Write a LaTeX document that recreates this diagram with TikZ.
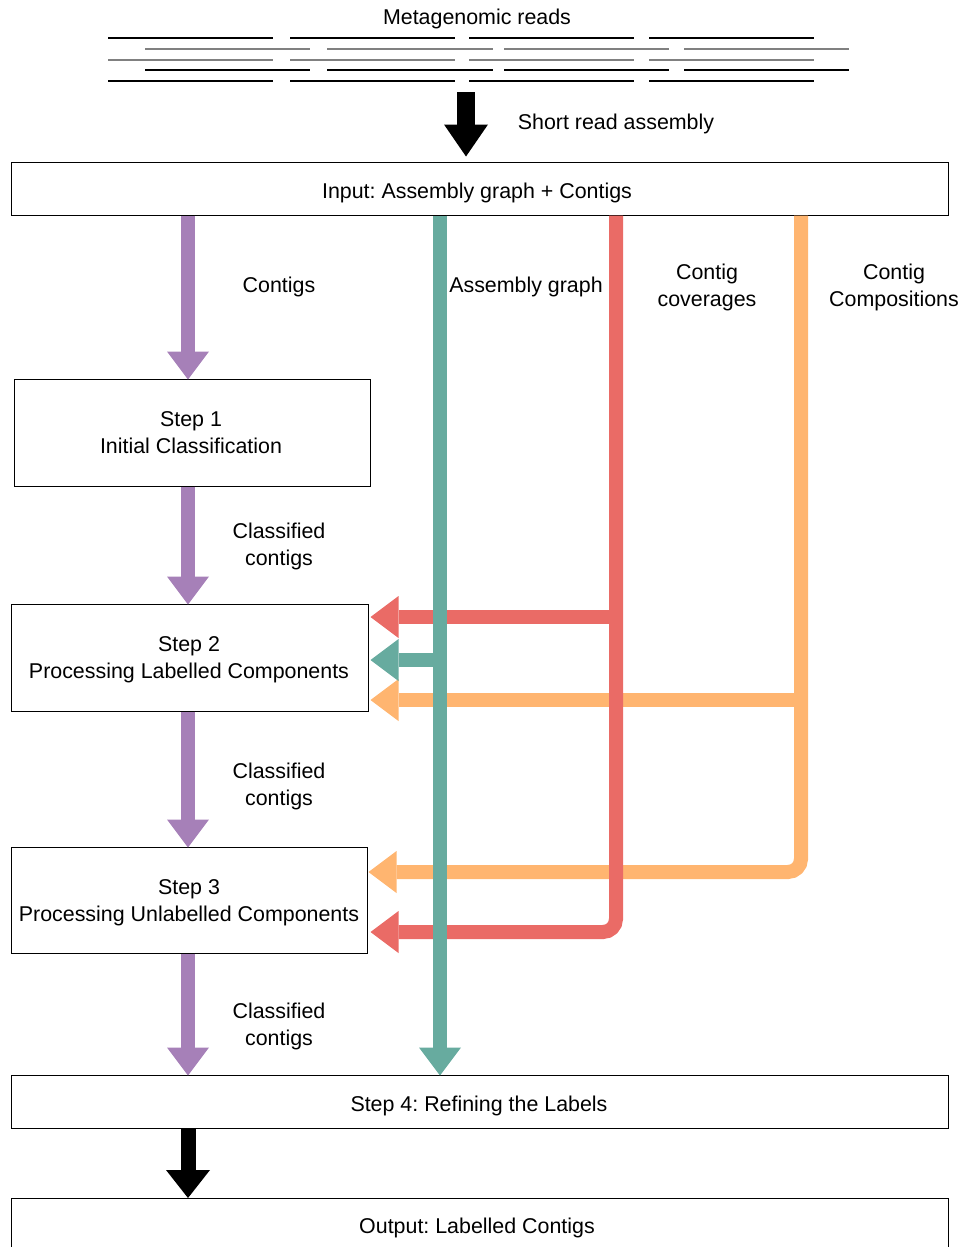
\documentclass[tikz,border=0pt]{standalone}
\usepackage{fontspec}
\setmainfont{Liberation Sans}
\usetikzlibrary{arrows.meta}
\definecolor{cpurp}{HTML}{A680B8}
\definecolor{cteal}{HTML}{67AB9F}
\definecolor{cred}{HTML}{EA6B66}
\definecolor{corange}{HTML}{FFB570}
\tikzset{
  box/.style={draw=black, line width=1pt, inner sep=0pt},
  lbl/.style={align=center, inner sep=0pt, anchor=base},
  fat/.style={line width=14pt, -{Triangle[width=42pt,length=28pt,line width=0pt]}},
  blk/.style={line width=#1, black},
  readA/.style={line width=1.2pt, black},
  readB/.style={line width=1.2pt, black!50},
}
\frenchspacing
\begin{document}
\begin{tikzpicture}[x=1pt,y=-1pt,font=\fontsize{21.4}{27}\selectfont]
\useasboundingbox (0,0) rectangle (961,1247);
% reads
\foreach \y/\s in {38/readA,60/readB,81/readA}{
  \foreach \a/\b in {108/273,290/455,469/634,649/814}{
    \draw[\s] (\a,\y) -- (\b,\y);
  }
}
\foreach \y/\s in {49/readB,70/readA}{
  \foreach \a/\b in {145/310,327/493,504/669,684/849}{
    \draw[\s] (\a,\y) -- (\b,\y);
  }
}
\node[lbl] (title) at (477,25) {Metagenomic reads};
\node[lbl] (sra) at (616,129) {Short read assembly};

% boxes
\node[box, minimum width=937pt, minimum height=53pt] (inp) at (479.5,188.5) {};
\node[box, minimum width=356pt, minimum height=107pt] (s1) at (192,432.5) {};
\node[box, minimum width=357pt, minimum height=107pt] (s2) at (189.5,657.5) {};
\node[box, minimum width=356pt, minimum height=106pt] (s3) at (189,900) {};
\node[box, minimum width=937pt, minimum height=53pt] (s4) at (479.5,1101.5) {};
\node[box, minimum width=937pt, minimum height=62pt, anchor=north] (out) at (479.5,1198) {};

% box texts (base = baseline of last line)
\node[lbl] (inpt) at (477,198) {Input: Assembly graph + Contigs};
\node[lbl] (s1t) at (191,453) {Step 1\\Initial Classification};
\node[lbl] (s2t) at (189,678) {Step 2\\Processing Labelled Components};
\node[lbl] (s3t) at (189,921) {Step 3\\Processing Unlabelled Components};
\node[lbl] (s4t) at (479,1111) {Step 4: Refining the Labels};
\node[lbl] (outt) at (477,1233) {Output: Labelled Contigs};

% labels
\node[lbl] (l1) at (279,292) {Contigs};
\node[lbl] (l2) at (526,292) {Assembly graph};
\node[lbl] (l3) at (707,306) {Contig\\coverages};
\node[lbl] (l4) at (894,306) {Contig\\Compositions};
\node[lbl] (c1) at (279,565) {Classified\\contigs};
\node[lbl] (c2) at (279,805) {Classified\\contigs};
\node[lbl] (c3) at (279,1045) {Classified\\contigs};

% coordinates
\coordinate (rb) at (466,92);
\coordinate (px) at (188,0);
\coordinate (tx) at (440,0);
\coordinate (rx) at (616,0);
\coordinate (ox) at (801,0);
\coordinate (yR2) at (0,617);
\coordinate (yT2) at (0,660);
\coordinate (yO2) at (0,700);
\coordinate (yO3) at (0,872);
\coordinate (yR3) at (0,932);

% black arrows
\draw[blk=18pt, -{Triangle[width=44pt,length=32pt,line width=0pt]}] (rb) -- ([yshift=5pt]inp.north -| rb);
\draw[blk=15pt, -{Triangle[width=44pt,length=28pt,line width=0pt]}] (s4.south -| px) -- (out.north -| px);

% purple
\draw[fat, cpurp] (inp.south -| px) -- ([yshift=-1pt]s1.north -| px);
\draw[fat, cpurp] (s1.south -| px) -- ([yshift=-1pt]s2.north -| px);
\draw[fat, cpurp] (s2.south -| px) -- ([yshift=-1pt]s3.north -| px);
\draw[fat, cpurp] (s3.south -| px) -- ([yshift=-1pt]s4.north -| px);

% orange
\draw[fat, corange, rounded corners=13pt] (inp.south -| ox) -- (ox |- yO3) -- ([xshift=1pt]s3.east |- yO3);
\draw[fat, corange] (ox |- yO2) -- ([xshift=2pt]s2.east |- yO2);
% red
\draw[fat, cred, rounded corners=13pt] (inp.south -| rx) -- (rx |- yR3) -- ([xshift=3pt]s3.east |- yR3);
\draw[fat, cred] (rx |- yR2) -- ([xshift=2pt]s2.east |- yR2);
% teal
\draw[fat, cteal] (inp.south -| tx) -- ([yshift=-1pt]s4.north -| tx);
\draw[fat, cteal] (tx |- yT2) -- ([xshift=2pt]s2.east |- yT2);
\end{tikzpicture}
\end{document}
